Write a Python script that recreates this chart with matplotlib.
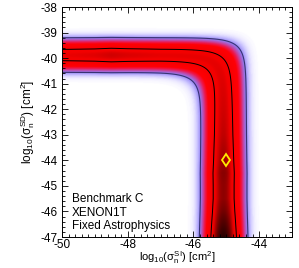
import numpy as np
import matplotlib
matplotlib.use('Agg')
import matplotlib.pyplot as plt
from matplotlib.colors import LinearSegmentedColormap
from matplotlib.ticker import MultipleLocator

plt.rcParams['font.family'] = ['Liberation Sans', 'DejaVu Sans']
plt.rcParams['mathtext.fontset'] = 'custom'
plt.rcParams['mathtext.rm'] = 'Liberation Sans'
plt.rcParams['mathtext.it'] = 'Liberation Sans'
plt.rcParams['mathtext.bf'] = 'Liberation Sans:bold'
plt.rcParams['axes.unicode_minus'] = False

# ---------------- data ----------------
x_limits = [-50, -43]
y_limits = [-47, -38]
x_major_ticks = [-50, -48, -46, -44]
y_major_ticks = [-47, -46, -45, -44, -43, -42, -41, -40, -39, -38]

# centre of the L-shaped degeneracy band
band_si_center = -45.08     # log10 sigma_SI of the vertical leg
band_sd_center = -39.88     # log10 sigma_SD of the horizontal leg
band_width = 0.371          # profile width across the band
band_shape = 2.2            # profile exponent

# peak density along the horizontal leg (vs log10 sigma_SI)
horiz_amp_x = [-50.0, -49.0, -48.5, -48.0, -47.0, -46.0, -45.0]
horiz_amp = [0.59, 0.61, 0.64, 0.62, 0.60, 0.60, 0.60]
# peak density along the vertical leg (vs log10 sigma_SD)
vert_amp_y = [-47.0, -46.5, -46.0, -45.5, -45.0, -44.5, -44.0, -43.0, -42.0, -41.0, -40.0]
vert_amp = [0.88, 0.82, 0.76, 0.72, 0.72, 0.73, 0.70, 0.66, 0.64, 0.62, 0.60]

contour_outer = 0.09
contour_inner = 0.504

benchmark_si = -45.0
benchmark_sd = -44.0

info_lines = ["Benchmark C", "XENON1T", "Fixed Astrophysics"]

# ---------------- build density ----------------
xg = np.linspace(x_limits[0], x_limits[1], 351)
yg = np.linspace(y_limits[0], y_limits[1], 451)
X, Y = np.meshgrid(xg, yg)
a = 10.0 ** (X - band_si_center)
b = 10.0 ** (Y - band_sd_center)
f = np.log10(a + b)
wsi = a / (a + b)
amp = wsi * np.interp(Y, vert_amp_y, vert_amp) + (1 - wsi) * np.interp(X, horiz_amp_x, horiz_amp)
Z = amp * np.exp(-0.5 * (np.abs(f) / band_width) ** band_shape)

cmap = LinearSegmentedColormap.from_list('band', [
    (0.00, (1.0, 1.0, 1.0)),
    (0.015, (0.94, 0.93, 1.0)),
    (0.045, (0.78, 0.75, 1.0)),
    (0.09, (0.56, 0.50, 0.95)),
    (0.14, (0.72, 0.32, 0.72)),
    (0.21, (0.92, 0.10, 0.32)),
    (0.29, (1.0, 0.0, 0.02)),
    (0.58, (0.95, 0.0, 0.0)),
    (0.64, (0.82, 0.0, 0.0)),
    (0.70, (0.62, 0.0, 0.0)),
    (0.78, (0.40, 0.0, 0.0)),
    (0.88, (0.16, 0.0, 0.0)),
    (1.00, (0.05, 0.0, 0.0)),
])

fig = plt.figure(figsize=(2.99, 2.68), dpi=100)
ax = fig.add_axes([62 / 299, 31 / 268, 230 / 299, 230 / 268])
ax.imshow(Z, extent=[x_limits[0], x_limits[1], y_limits[0], y_limits[1]], origin='lower',
          aspect='auto', cmap=cmap, vmin=0, vmax=1, interpolation='bilinear')
ax.contour(X, Y, Z, levels=[contour_outer], colors=[(0.22, 0.2, 0.45)], linewidths=0.8)
ax.contour(X, Y, Z, levels=[contour_inner], colors='k', linewidths=0.7)
ax.plot([benchmark_si], [benchmark_sd], marker='d', ms=6.5, mfc='none', mec=(1.0, 0.92, 0.0), mew=1.3)

ax.set_xlim(x_limits)
ax.set_ylim(y_limits)
ax.set_xticks(x_major_ticks)
ax.set_yticks(y_major_ticks)
ax.xaxis.set_minor_locator(MultipleLocator(0.2))
ax.yaxis.set_minor_locator(MultipleLocator(0.2))
ax.tick_params(which='both', direction='in', top=True, right=True, labelsize=8.5, width=0.6)
ax.tick_params(which='major', length=4)
ax.tick_params(which='minor', length=2)
ax.tick_params(axis='x', pad=1.5)
for s in ax.spines.values():
    s.set_linewidth(0.7)

ax.set_xlabel(r'log$_{10}$($\sigma_n^{SI}$) [cm$^2$]', fontsize=8, labelpad=-1)
ax.set_ylabel(r'log$_{10}$($\sigma_n^{SD}$) [cm$^2$]', fontsize=8.5, labelpad=2)

ax.text(0.043, 0.022, "\n".join(info_lines), transform=ax.transAxes, fontsize=8.5,
        ha='left', va='bottom', linespacing=1.15)

fig.savefig('out.png', dpi=100)
